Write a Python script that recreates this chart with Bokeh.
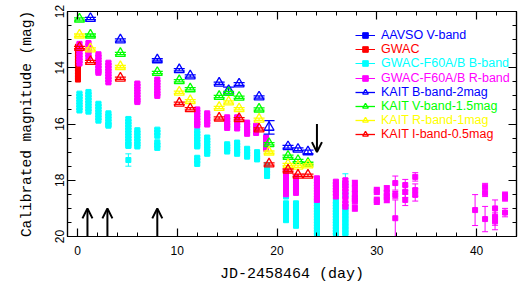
from bokeh.plotting import figure
from bokeh.models import (Range1d, LinearAxis, FixedTicker, Legend, LegendItem,
                          Arrow, OpenHead, ColumnDataSource)
from bokeh.embed import file_html
from bokeh.resources import INLINE

# ---------------- data ----------------
# AAVSO V-band: no point is visible in the picture (legend entry only)
aavso_day = [float("nan")]
aavso_mag = [float("nan")]
aavso_err = [0.0]

# GWAC unfiltered (red squares)
gwac_day = [0.05] * 13
gwac_mag = [13.25, 13.35, 13.45, 13.55, 13.65, 13.75, 13.85, 13.95, 14.05, 14.15, 14.25, 14.35, 14.42]
gwac_err = [0.05] * 13

# GWAC-F60A/B B-band clusters: (day, mags, err)
f60_B = [
    (0.2, [14.92, 15.02, 15.12, 15.22, 15.32, 15.42, 15.52], 0.04),
    (1.1, [14.86, 14.96, 15.06, 15.16, 15.26, 15.36, 15.46, 15.56], 0.04),
    (2.1, [15.28, 15.38, 15.48, 15.58, 15.68, 15.78, 15.88], 0.04),
    (3.1, [15.62, 15.72, 15.82, 15.92, 16.02, 16.06], 0.04),
    (5.1, [15.82, 15.92, 16.02, 16.12, 16.22, 16.32, 16.42, 16.52, 16.62, 16.72, 16.78], 0.05),
    (5.1, [17.28], 0.22),
    (6.0, [16.22, 16.32, 16.42, 16.52, 16.62, 16.72, 16.8], 0.04),
    (8.0, [16.2, 16.3, 16.42, 16.65, 16.75, 16.85], 0.04),
    (12.0, [16.24, 16.34, 16.44, 16.54, 16.64, 16.74, 16.8, 17.2, 17.3, 17.42], 0.04),
    (13.0, [16.48, 16.58, 16.68, 16.78, 16.88, 16.98, 17.06], 0.05),
    (15.0, [16.72, 16.8, 16.9, 16.98], 0.04),
    (16.0, [16.66, 16.76, 16.86, 16.96, 17.06], 0.04),
    (17.0, [16.88, 16.98, 17.08, 17.16], 0.04),
    (18.0, [17.0, 17.1, 17.2, 17.26], 0.04),
    (19.0, [17.45, 17.55, 17.65, 17.75, 17.85], 0.04),
    (20.9, [18.48, 18.58, 18.82, 18.92, 19.02, 19.12, 19.22, 19.32, 19.42], 0.05),
    (21.9, [18.82, 18.92, 19.02, 19.12, 19.22, 19.32, 19.42, 19.52, 19.62], 0.05),
    (24.0, [18.75, 18.85, 18.95, 19.05, 19.15, 19.25, 19.35, 19.45, 19.55, 19.65, 19.75, 19.85, 19.95], 0.05),
    (25.9, [18.75, 18.85, 18.95, 19.05, 19.15, 19.25, 19.35, 19.45, 19.55, 19.65, 19.75, 19.85, 19.95], 0.05),
    (26.85, [18.17], 0.4),
    (26.85, [18.5, 18.95, 19.05, 19.15, 19.25, 19.35, 19.45, 19.55, 19.65, 19.75, 19.85, 19.95], 0.08),
]

# GWAC-F60A/B R-band clusters: (day, mags, err)
f60_R = [
    (0.2, [13.15, 13.25, 13.35, 13.45, 13.55, 13.65, 13.75, 13.85], 0.04),
    (1.1, [13.12, 13.22, 13.32, 13.42, 13.52, 13.62], 0.04),
    (2.1, [13.52, 13.62, 13.72, 13.82, 13.92, 14.02, 14.12, 14.18], 0.04),
    (3.1, [13.82, 13.92, 14.02, 14.12, 14.22, 14.32, 14.42, 14.52], 0.04),
    (6.0, [14.56, 14.66, 14.76, 14.86, 14.96, 15.06, 15.16, 15.22], 0.04),
    (8.0, [14.42, 14.52, 14.62, 14.72, 14.82, 14.92, 15.0], 0.04),
    (12.0, [15.48, 15.58, 15.68, 15.78, 15.88, 15.98, 16.05], 0.04),
    (13.0, [15.62, 15.72, 15.82, 15.92, 16.02], 0.04),
    (15.0, [15.76, 15.86, 15.96, 16.06, 16.14], 0.04),
    (16.0, [15.76, 15.86, 15.96, 16.06, 16.16], 0.04),
    (17.0, [15.95, 16.05, 16.15, 16.25, 16.35], 0.04),
    (17.9, [16.06, 16.16, 16.26, 16.32], 0.04),
    (18.9, [16.48, 16.58, 16.68, 16.78, 16.88], 0.04),
    (20.9, [17.7, 17.8, 17.9, 18.0, 18.1, 18.2, 18.3, 18.4, 18.5], 0.05),
    (21.9, [17.9, 18.0, 18.1, 18.2, 18.3, 18.4, 18.45], 0.05),
    (24.0, [17.93, 18.03, 18.13, 18.23, 18.33, 18.43, 18.53, 18.63, 18.7], 0.05),
    (25.9, [18.05, 18.15, 18.25, 18.35, 18.45, 18.58], 0.05),
    (26.85, [18.0, 18.1, 18.2, 18.3, 18.4, 18.55, 18.7, 18.85, 18.94], 0.06),
    (27.8, [18.1, 18.3, 18.5, 18.65, 18.75, 19.0], 0.1),
    (30.0, [18.35, 18.41, 18.7, 18.76], 0.1),
    (31.0, [18.29, 18.46, 18.58, 18.7], 0.1),
    (31.85, [18.1], 0.25),
    (31.85, [18.52], 0.12),
    (31.85, [19.35], 0.65),
    (32.85, [18.17, 18.41, 18.7], 0.2),
    (33.85, [17.88], 0.15),
    (33.85, [18.35, 18.52], 0.22),
    (39.85, [19.06], 0.55),
    (40.85, [18.23, 18.46], 0.12),
    (40.85, [19.38], 0.45),
    (41.85, [19.0, 19.3, 19.46], 0.3),
    (42.85, [18.52, 18.64], 0.1),
    (42.85, [19.15], 0.15),
]

# KAIT (offset) photometry
kaitB_day = [1.3, 4.3, 8.0, 10.2, 11.3, 14.2, 15.15, 16.2, 18.2, 19.2, 21.1, 22.1, 23.1]
kaitB_mag = [12.25, 13.01, 13.72, 14.07, 14.29, 14.55, 14.81, 14.58, 15.04, 16.12, 16.81, 16.90, 16.99]
kaitB_err = [0.04, 0.04, 0.04, 0.04, 0.04, 0.04, 0.12, 0.05, 0.04, 0.24, 0.05, 0.05, 0.06]

kaitV_day = [0.2, 1.3, 4.3, 8.0, 10.2, 11.3, 14.2, 15.15, 16.2, 18.2, 19.2, 21.1, 22.1, 23.1]
kaitV_mag = [12.27, 12.84, 13.49, 14.17, 14.46, 14.75, 15.02, 14.88, 15.05, 15.47, 16.70, 17.15, 17.30, 17.40]
kaitV_err = [0.04] * 14

kaitR_day = [0.2, 1.3, 4.3, 10.2, 11.3, 14.2, 15.15, 16.2, 18.2, 19.2, 21.1, 22.1, 23.1]
kaitR_mag = [12.84, 13.33, 13.96, 14.87, 15.17, 15.41, 15.22, 15.46, 15.83, 17.00, 17.44, 17.50, 17.46]
kaitR_err = [0.04] * 13

kaitI_day = [0.2, 1.3, 4.3, 10.2, 11.3, 14.2, 16.2, 18.2, 19.2, 21.1, 22.1, 23.1]
kaitI_mag = [13.28, 13.78, 14.37, 15.26, 15.46, 15.79, 15.81, 16.18, 17.42, 17.64, 17.82, 17.82]
kaitI_err = [0.04] * 12

# arrows (epochs marked)
up_arrow_day = [1.0, 3.0, 8.0]
up_arrow_from, up_arrow_to = 20.0, 19.0
down_arrow_day = [24.0]
down_arrow_from, down_arrow_to = 16.0, 17.0

legend_labels = ["AAVSO V-band", "GWAC", "GWAC-F60A/B B-band", "GWAC-F60A/B R-band",
                 "KAIT B-band-2mag", "KAIT V-band-1.5mag", "KAIT R-band-1mag", "KAIT I-band-0.5mag"]


def flatten(clusters):
    d, m, e = [], [], []
    for day, mags, err in clusters:
        for mm in mags:
            d.append(day)
            m.append(mm)
            e.append(err)
    return d, m, e


# ---------------- figure ----------------
p = figure(width=523, height=286, output_backend="svg", toolbar_location=None,
           x_range=Range1d(-1, 44), y_range=Range1d(20, 12),
           min_border_left=67, min_border_right=7, min_border_top=11, min_border_bottom=50)
p.grid.visible = False
p.outline_line_color = "black"
p.outline_line_width = 1.2
p.background_fill_color = "white"

xt = FixedTicker(ticks=[0, 10, 20, 30, 40], minor_ticks=list(range(0, 45, 2)))
yt = FixedTicker(ticks=[12, 14, 16, 18, 20], minor_ticks=[12 + 0.5 * i for i in range(17)])


def style_axis(ax, labels=True):
    ax.major_tick_in = 8
    ax.major_tick_out = 0
    ax.minor_tick_in = 4
    ax.minor_tick_out = 0
    ax.axis_line_color = "black"
    ax.axis_line_width = 1.2
    ax.major_tick_line_width = 1.2
    ax.minor_tick_line_width = 1
    if labels:
        ax.major_label_text_font = "Liberation Sans"
        ax.major_label_text_font_size = "12px"
        ax.major_label_text_color = "black"
    else:
        ax.major_label_text_font_size = "1px"
        ax.major_label_text_color = None
        ax.major_label_standoff = 0


p.xaxis.ticker = xt
p.yaxis.ticker = yt
style_axis(p.xaxis[0])
style_axis(p.yaxis[0])
p.xaxis.major_label_standoff = 9
p.yaxis.major_label_standoff = 4
p.yaxis.major_label_orientation = "vertical"
p.xaxis.axis_label = "JD-2458464 (day)"
p.yaxis.axis_label = "Calibrated magnitude (mag)"
for ax in (p.xaxis[0], p.yaxis[0]):
    ax.axis_label_text_font = "Liberation Mono"
    ax.axis_label_text_font_style = "normal"
    ax.axis_label_text_color = "black"
p.xaxis.axis_label_text_font_size = "15px"
p.yaxis.axis_label_text_font_size = "14.5px"
p.xaxis.axis_label_standoff = 8
p.yaxis.axis_label_standoff = 17

top = LinearAxis(ticker=xt)
style_axis(top, labels=False)
right = LinearAxis(ticker=yt)
style_axis(right, labels=False)
p.add_layout(top, "above")
p.add_layout(right, "right")


def err_series(days, mags, errs, color, marker, size, fill, cap, lw=1.0):
    src = ColumnDataSource(dict(x=days, y=mags,
                                lo=[m - e for m, e in zip(mags, errs)],
                                hi=[m + e for m, e in zip(mags, errs)]))
    seg = p.segment(x0="x", y0="lo", x1="x", y1="hi", source=src, line_color=color, line_width=lw)
    p.scatter("x", "lo", source=src, marker="dash", size=cap, line_color=color, line_width=lw)
    p.scatter("x", "hi", source=src, marker="dash", size=cap, line_color=color, line_width=lw)
    sc = p.scatter("x", "y", source=src, marker=marker, size=size,
                   fill_color=fill, line_color=color, line_width=lw)
    return [seg, sc]


BLUE, RED, CYAN, MAG, GREEN, YEL = "#0000ff", "#ff0000", "#00ffff", "#ff00ff", "#00ff00", "#ffff00"

r_aavso = err_series(aavso_day, aavso_mag, aavso_err, BLUE, "square", 5, BLUE, 6)
r_gwac = err_series(gwac_day, gwac_mag, gwac_err, RED, "square", 5, RED, 6)
bd, bm, be = flatten(f60_B)
r_B = err_series(bd, bm, be, CYAN, "square", 5, CYAN, 6)
rd, rm, re_ = flatten(f60_R)
r_R = err_series(rd, rm, re_, MAG, "square", 5, MAG, 6)
r_kB = err_series(kaitB_day, kaitB_mag, kaitB_err, BLUE, "triangle", 10, None, 11, 1.3)
r_kV = err_series(kaitV_day, kaitV_mag, kaitV_err, GREEN, "triangle", 10, None, 11, 1.3)
r_kR = err_series(kaitR_day, kaitR_mag, kaitR_err, YEL, "triangle", 10, None, 11, 1.3)
r_kI = err_series(kaitI_day, kaitI_mag, kaitI_err, RED, "triangle", 10, None, 11, 1.3)

for d in up_arrow_day:
    p.add_layout(Arrow(x_start=d, y_start=up_arrow_from, x_end=d, y_end=up_arrow_to,
                       line_width=2, line_color="black",
                       end=OpenHead(size=10, line_width=2, line_color="black")))
for d in down_arrow_day:
    p.add_layout(Arrow(x_start=d, y_start=down_arrow_from, x_end=d, y_end=down_arrow_to,
                       line_width=2, line_color="black",
                       end=OpenHead(size=10, line_width=2, line_color="black")))

rends = [r_aavso, r_gwac, r_B, r_R, r_kB, r_kV, r_kR, r_kI]
colors = [BLUE, RED, CYAN, MAG, BLUE, GREEN, YEL, RED]
for i, (lab, rr, c) in enumerate(zip(legend_labels, rends, colors)):
    lg = Legend(items=[LegendItem(label=lab, renderers=rr)],
                location=(288, 194 - 14.2 * i),
                border_line_color=None, background_fill_alpha=0,
                padding=0, margin=0, spacing=0,
                label_height=14, glyph_height=14, glyph_width=20, label_standoff=6,
                label_text_font="Liberation Sans", label_text_font_size="12.5px",
                label_text_color=c)
    p.add_layout(lg, "center")

open("out.html", "w").write(file_html(p, INLINE))
